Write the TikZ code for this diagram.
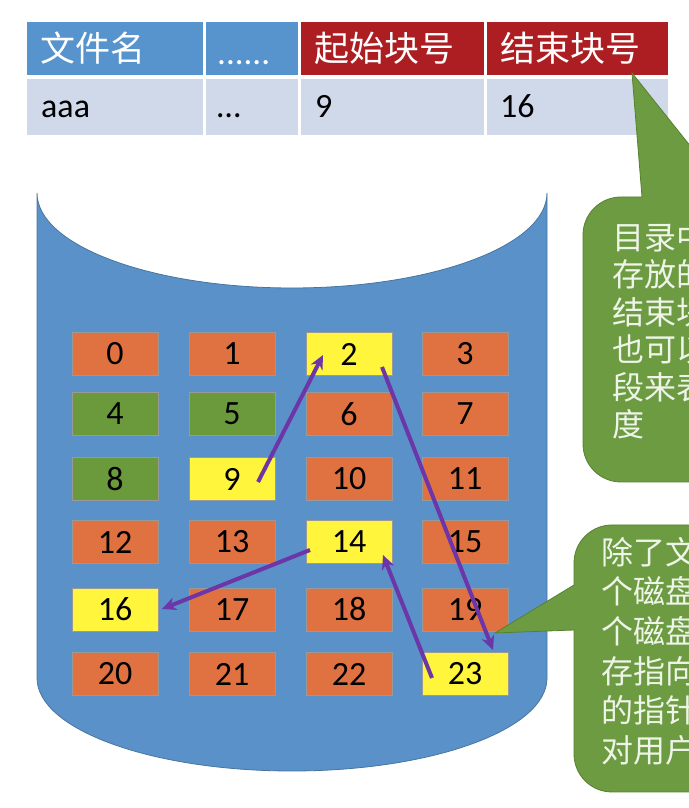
\documentclass[tikz,border=0pt]{standalone}
\usepackage{fontspec}
\setmainfont{Carlito}
\newfontfamily\cjk{Noto Sans CJK SC}
\usetikzlibrary{arrows.meta}
\definecolor{hdrblue}{HTML}{5794CE}
\definecolor{hdrred}{HTML}{AC1E22}
\definecolor{rowgray}{HTML}{CFD9EA}
\definecolor{cylblue}{HTML}{5A91C9}
\definecolor{cylline}{HTML}{46769F}
\definecolor{borange}{HTML}{E07242}
\definecolor{bgreen}{HTML}{6B9A3C}
\definecolor{byellow}{HTML}{FFF53C}
\definecolor{calgreen}{HTML}{6C9B41}
\definecolor{calline}{HTML}{58812F}
\definecolor{caltext}{HTML}{EEF4E8}
\definecolor{arrpurple}{HTML}{6C35A8}
\begin{document}
\begin{tikzpicture}[x=1pt,y=1pt,
  hdrtext/.style={inner sep=0pt,anchor=west,text=white,font=\cjk\fontsize{35}{40}\selectfont},
  rowtext/.style={inner sep=0pt,anchor=base west,text=black,font=\fontsize{34}{40}\selectfont},
  blk/.style={draw=black!40,line width=0.7pt,minimum width=86pt,minimum height=43pt,inner sep=0pt,font=\fontsize{34}{38}\selectfont,text=black},
  blkO/.style={blk,fill=borange},
  blkG/.style={blk,fill=bgreen},
  blkY/.style={blk,fill=byellow},
  arr/.style={draw=arrpurple,line width=4pt,-{Stealth[length=14pt,width=13pt]}},
  callout/.style={fill=calgreen,draw=calline,line width=0.8pt},
  caltxt/.style={inner sep=0pt,anchor=north west,align=left,text=caltext}
]
\useasboundingbox (0,0) rectangle (688,808);
\fill[white] (0,0) rectangle (688,808);

% table
\fill[hdrblue] (27,733) rectangle (203,786);
\fill[hdrblue] (206,733) rectangle (298,786);
\fill[hdrred] (301,733) rectangle (484,786);
\fill[hdrred] (487,733) rectangle (668,786);
\fill[rowgray] (27,673) rectangle (203,729);
\fill[rowgray] (206,673) rectangle (298,729);
\fill[rowgray] (301,673) rectangle (484,729);
\fill[rowgray] (487,673) rectangle (668,729);
\node[hdrtext] (h1) at (40,760) {文件名};
\node[inner sep=0pt,anchor=base west,text=white,font=\fontsize{35}{40}\selectfont] (h2) at (217,743) {......};
\node[hdrtext] (h3) at (314,760) {起始块号};
\node[hdrtext] (h4) at (500,760) {结束块号};
\node[rowtext] (r1) at (41,690) {aaa};
\node[rowtext] (r2) at (217,690) {…};
\node[rowtext] (r3) at (315,690) {9};
\node[rowtext] (r4) at (500,690) {16};

% cylinder
\path[fill=cylblue,draw=cylline,line width=0.8pt]
  (37,615) -- (37,130) arc[start angle=180,end angle=360,x radius=255,y radius=93]
  -- (547,615) arc[start angle=0,end angle=-180,x radius=255,y radius=95] -- cycle;

% blocks
\node[blkO] (b0)  at (115,454) {0};
\node[blkO] (b1)  at (232,454) {1};
\node[blkY] (b2)  at (349,454) {2};
\node[blkO] (b3)  at (465,454) {3};
\node[blkG] (b4)  at (115,394) {4};
\node[blkG] (b5)  at (232,394) {5};
\node[blkO] (b6)  at (349,394) {6};
\node[blkO] (b7)  at (465,394) {7};
\node[blkG] (b8)  at (115,329) {8};
\node[blkY] (b9)  at (232,329) {9};
\node[blkO] (b10) at (349,329) {10};
\node[blkO] (b11) at (465,329) {11};
\node[blkO] (b12) at (115,266) {12};
\node[blkO] (b13) at (232,266) {13};
\node[blkY] (b14) at (349,266) {14};
\node[blkO] (b15) at (465,266) {15};
\node[blkY] (b16) at (115,198.5) {16};
\node[blkO] (b17) at (232,198.5) {17};
\node[blkO] (b18) at (349,198.5) {18};
\node[blkO] (b19) at (465,198.5) {19};
\node[blkO] (b20) at (115,134) {20};
\node[blkO] (b21) at (232,134) {21};
\node[blkO] (b22) at (349,134) {22};
\node[blkY] (b23) at (465,134) {23};

% callouts
\path[callout] (583,364) -- (583,573) arc[start angle=180,end angle=90,radius=38]
  -- (642,611) -- (632,735) -- (731,611) -- (920,611) -- (920,326) -- (621,326)
  arc[start angle=270,end angle=180,radius=38] -- cycle;
\node[caltxt,font=\cjk\fontsize{32}{37.5}\selectfont] (c1) at (612,586)
  {目录中记录了文件\\存放的起始块号和\\结束块号。当然，\\也可以增加一个字\\段来表示文件的长\\度};
\path[callout] (574,54) -- (574,178) -- (495,175) -- (574,223) -- (574,245)
  arc[start angle=180,end angle=90,radius=38] -- (920,283) -- (920,16) -- (612,16)
  arc[start angle=270,end angle=180,radius=38] -- cycle;
\node[caltxt,font=\cjk\fontsize{32}{39.6}\selectfont] (c2) at (601,271)
  {除了文件的最后一\\个磁盘块之外，每\\个磁盘块中都会保\\存指向下一个盘块\\的指针，这些指针\\对用户是透明的。};

% arrows
\draw[arr] ([shift={(26,-3)}]b9.center) -- ([shift={(-26,-1)}]b2.center);
\draw[arr] ([shift={(33,-13)}]b2.center) -- ([shift={(28,24)}]b23.center);
\draw[arr] ([shift={(-33,-4)}]b23.center) -- ([shift={(34,-13)}]b14.center);
\draw[arr] ([shift={(-39,-8)}]b14.center) -- ([shift={(47,0.5)}]b16.center);
\end{tikzpicture}
\end{document}
